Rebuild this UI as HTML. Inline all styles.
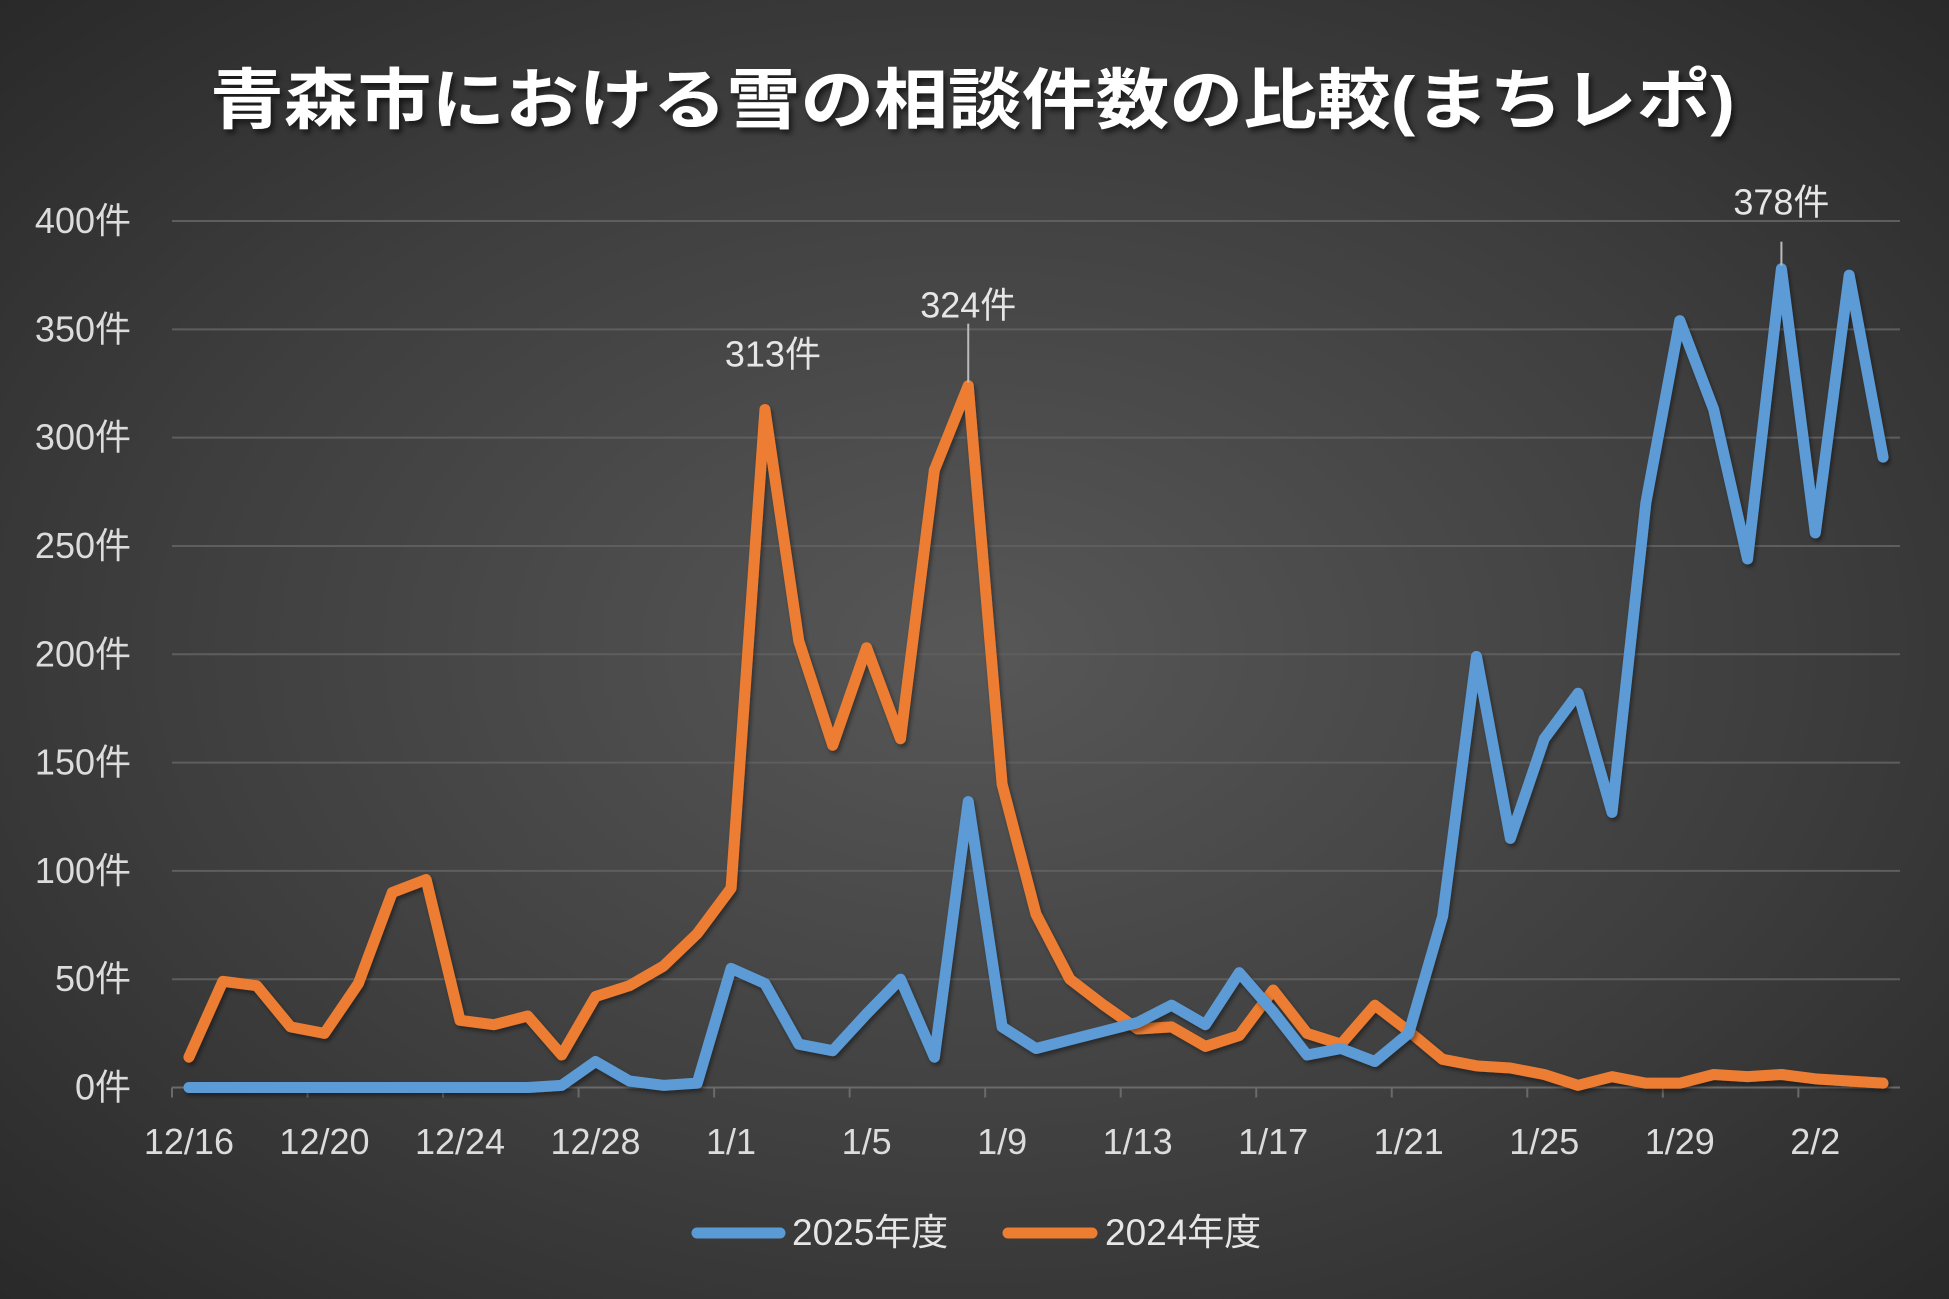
<!DOCTYPE html>
<html><head><meta charset="utf-8"><style>
html,body{margin:0;padding:0;}
body{width:1949px;height:1299px;overflow:hidden;background:radial-gradient(ellipse 75% 75% at 50% 50%,#575757 0%,#3e3e3e 55%,#262626 100%);}
svg{position:absolute;left:0;top:0;}
text{font-family:"Liberation Sans","Noto Sans CJK JP",sans-serif;}
</style></head><body>
<svg id="chart" width="1949" height="1299">
<defs><filter id="sh" x="-5%" y="-20%" width="110%" height="160%"><feDropShadow dx="3" dy="4" stdDeviation="3" flood-color="#000" flood-opacity="0.6"/></filter>
<filter id="ls"><feDropShadow dx="2" dy="3" stdDeviation="2" flood-color="#000" flood-opacity="0.4"/></filter></defs>
<text x="210" y="123" font-size="66" font-weight="bold" fill="#fff" textLength="1525" lengthAdjust="spacingAndGlyphs" filter="url(#sh)">青森市における雪の相談件数の比較(まちレポ)</text>
<g id="grid"></g><g id="axes"></g><g id="lines"></g><g id="notes"></g>
<g>
<line x1="697" y1="1233" x2="780" y2="1233" stroke="#5b9bd5" stroke-width="11" stroke-linecap="round"/>
<text x="792" y="1245" font-size="37" fill="#e6e6e6">2025年度</text>
<line x1="1008" y1="1233" x2="1092" y2="1233" stroke="#ed7d31" stroke-width="11" stroke-linecap="round"/>
<text x="1105" y="1245" font-size="37" fill="#e6e6e6">2024年度</text>
</g>
</svg>
<script>
const categories=["12/16","12/17","12/18","12/19","12/20","12/21","12/22","12/23","12/24","12/25","12/26","12/27","12/28","12/29","12/30","12/31","1/1","1/2","1/3","1/4","1/5","1/6","1/7","1/8","1/9","1/10","1/11","1/12","1/13","1/14","1/15","1/16","1/17","1/18","1/19","1/20","1/21","1/22","1/23","1/24","1/25","1/26","1/27","1/28","1/29","1/30","1/31","2/1","2/2","2/3","2/4"];
const series2025=[0,0,0,0,0,0,0,0,0,0,0,1,12,3,1,2,55,48,20,17,34,50,14,132,28,18,22,26,30,38,29,53,35,15,18,12,25,79,199,115,161,182,127,270,354,313,244,378,256,375,291];
const series2024=[14,49,47,28,25,48,90,96,31,29,33,15,42,47,56,71,92,313,206,158,203,161,285,324,140,80,50,38,27,28,19,24,45,25,20,38,26,13,10,9,6,1,5,2,2,6,5,6,4,3,2];
const yTicks=[0,50,100,150,200,250,300,350,400];
const annotations=[{s:"2024",i:17,label:"313件",lead:0,dy:43},{s:"2024",i:23,label:"324件",lead:62,dy:68},{s:"2025",i:47,label:"378件",lead:27,dy:54}];
const NS="http://www.w3.org/2000/svg";
const L=172,R=1900,Y0=1087.5,Y400=221;
const step=(R-L)/categories.length;
const x=i=>L+step*(i+0.5);
const y=v=>Y0-(Y0-Y400)*v/400;
function mk(tag,attrs,parent){const e=document.createElementNS(NS,tag);for(const k in attrs)e.setAttribute(k,attrs[k]);parent.appendChild(e);return e;}
const grid=document.getElementById('grid'),axes=document.getElementById('axes'),lines=document.getElementById('lines'),notes=document.getElementById('notes');
yTicks.forEach(t=>{
 const g=mk('line',{x1:L,x2:R,y1:y(t),y2:y(t),stroke:t===0?'#6a6a6a':'#5e5e5e','stroke-width':2},grid);
 
 
 const tx=mk('text',{x:131,y:y(t)+12,'text-anchor':'end','font-size':36,fill:'#dcdcdc'},axes);
 tx.textContent=t+'件';
 
 
});
for(let i=0;i<=categories.length;i+=4){
 const tk=mk('line',{x1:L+step*i,x2:L+step*i,y1:Y0,y2:Y0+10,stroke:'#6a6a6a','stroke-width':2},axes);
 
 
}
categories.forEach((c,i)=>{
 if(i%4!==0)return;
 const tx=mk('text',{x:x(i),y:1154,'text-anchor':'middle','font-size':36,fill:'#dcdcdc'},axes);
 tx.textContent=c;
 
 
});
function drawLine(vals,color,name){
 const p=mk('polyline',{points:vals.map((v,i)=>x(i)+','+y(v)).join(' '),fill:'none',stroke:color,'stroke-width':11,'stroke-linejoin':'round','stroke-linecap':'round',filter:'url(#ls)'},lines);
 
 
}
drawLine(series2024,'#ed7d31','line-2024');
drawLine(series2025,'#5b9bd5','line-2025');
annotations.forEach(a=>{
 const v=(a.s==="2025"?series2025:series2024)[a.i];
 const px=x(a.i),py=y(v);
 if(a.lead){
  const ln=mk('line',{x1:px,x2:px,y1:py-a.lead,y2:py-3,stroke:'#bbbbbb','stroke-width':2},notes);
  
  
 }
 const tx=mk('text',{x:a.lead?px:px+8,y:py-a.dy,'text-anchor':'middle','font-size':36,fill:'#e6e6e6'},notes);
 tx.textContent=a.label;
 
 
});
</script>
</body></html>
